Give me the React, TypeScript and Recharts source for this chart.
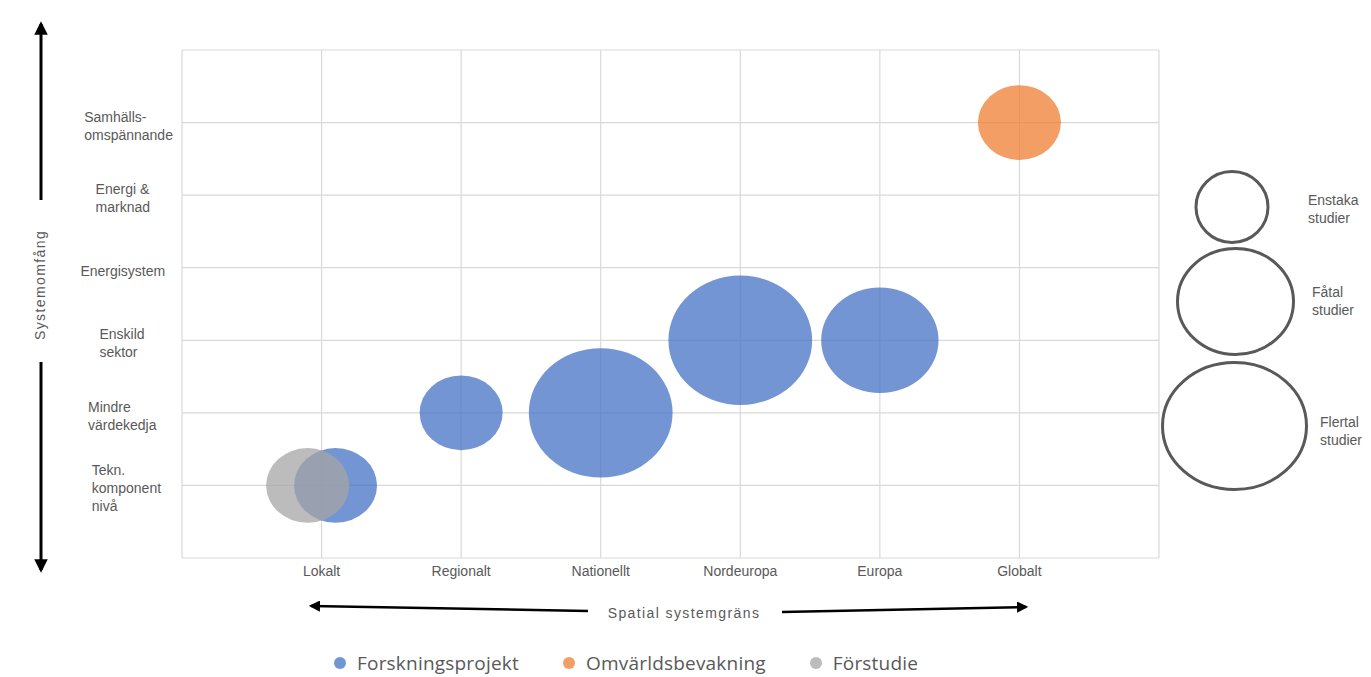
import React from "react";
import {
  ScatterChart,
  Scatter,
  XAxis,
  YAxis,
  ZAxis,
  CartesianGrid,
} from "recharts";

// spatial scope (x), system scope (y), number of studies (z)
const forskningX = [1.1, 2, 3, 4, 5];
const forskningY = [1, 2, 2, 3, 3];
const forskningZ = [1, 1, 3, 3, 2];

const omvarldX = [6];
const omvarldY = [6];
const omvarldZ = [1];

const forstudieX = [0.9];
const forstudieY = [1];
const forstudieZ = [1];

const xLabels = ["", "Lokalt", "Regionalt", "Nationellt", "Nordeuropa", "Europa", "Globalt", ""];
const yLabels = [
  "",
  "Tekn.\nkomponent\nnivå",
  "Mindre\nvärdekedja",
  "Enskild\nsektor",
  "Energisystem",
  "Energi &\nmarknad",
  "Samhälls-\nomspännande",
  "",
];
const gridTicks = [0, 1, 2, 3, 4, 5, 6, 7];

const sizeLabels = ["Enstaka\nstudier", "Fåtal\nstudier", "Flertal\nstudier"];

const series = [
  { name: "Forskningsprojekt", color: "#4472C4", xs: forskningX, ys: forskningY, zs: forskningZ },
  { name: "Omvärldsbevakning", color: "#ED7D31", xs: omvarldX, ys: omvarldY, zs: omvarldZ },
  { name: "Förstudie", color: "#A5A5A5", xs: forstudieX, ys: forstudieY, zs: forstudieZ },
];

const toPoints = (xs: number[], ys: number[], zs: number[]) =>
  xs.map((x, i) => ({ x, y: ys[i], z: zs[i] }));

const FONT = "'Liberation Sans', Arial, sans-serif";
const TEXT = "#595959";

// bubbles are slightly squashed ellipses
const Bubble = (props: any) => {
  const { cx, cy, width, fill } = props;
  if (cx == null || cy == null) return null;
  const rx = width / 2;
  return <ellipse cx={cx} cy={cy} rx={rx} ry={rx * 0.9} fill={fill} fillOpacity={0.75} />;
};

const YTick = (props: any) => {
  const { y, payload } = props;
  const label = yLabels[payload.value] || "";
  if (!label) return null;
  const lines = label.split("\n");
  const longest = Math.max(...lines.map((l: string) => l.length));
  const left = 126 - (longest * 7.6) / 2;
  const lineH = 18;
  const top = y - ((lines.length - 1) * lineH) / 2 + 3;
  return (
    <g>
      {lines.map((l: string, i: number) => (
        <text
          key={i}
          x={left}
          y={top + i * lineH}
          dominantBaseline="central"
          fill={TEXT}
          fontSize={14}
          fontFamily={FONT}
        >
          {l}
        </text>
      ))}
    </g>
  );
};

const SizeKey = () => {
  const rings = [
    { cx: 1232, cy: 207, rx: 36, ry: 35.5, tx: 1308, ty: 205 },
    { cx: 1235.5, cy: 301.5, rx: 58, ry: 53, tx: 1312, ty: 297 },
    { cx: 1234.5, cy: 426, rx: 72, ry: 63.5, tx: 1320, ty: 427 },
  ];
  return (
    <g>
      {rings.map((r, i) => (
        <g key={i}>
          <ellipse cx={r.cx} cy={r.cy} rx={r.rx} ry={r.ry} fill="none" stroke="#595959" strokeWidth={3} />
          {sizeLabels[i].split("\n").map((l, j) => (
            <text key={j} x={r.tx} y={r.ty + j * 18} fill={TEXT} fontSize={14} fontFamily={FONT}>
              {l}
            </text>
          ))}
        </g>
      ))}
    </g>
  );
};

const Arrows = () => (
  <svg
    width={1371}
    height={677}
    style={{ position: "absolute", left: 0, top: 0, pointerEvents: "none" }}
  >
    <defs>
      <marker id="head" viewBox="0 0 10 10" refX="8" refY="5" markerWidth="4.5" markerHeight="4.5" orient="auto-start-reverse">
        <path d="M0,0 L10,5 L0,10 z" fill="#000" />
      </marker>
    </defs>
    {/* system scope */}
    <line x1={41} y1={200} x2={41} y2={24} stroke="#000" strokeWidth={3} markerEnd="url(#head)" />
    <line x1={41} y1={362} x2={41} y2={570} stroke="#000" strokeWidth={3} markerEnd="url(#head)" />
    <text
      x={40}
      y={285}
      transform="rotate(-90 40 285)"
      textAnchor="middle"
      dominantBaseline="central"
      fill={TEXT}
      fontSize={14}
      letterSpacing={1.4}
      fontFamily={FONT}
    >
      Systemomfång
    </text>
    {/* spatial boundary */}
    <line x1={588} y1={611} x2={311} y2={606} stroke="#000" strokeWidth={2.5} markerEnd="url(#head)" />
    <line x1={782} y1={612} x2={1026} y2={607} stroke="#000" strokeWidth={2.5} markerEnd="url(#head)" />
    <text
      x={684}
      y={613}
      textAnchor="middle"
      dominantBaseline="central"
      fill={TEXT}
      fontSize={14}
      letterSpacing={1.4}
      fontFamily={FONT}
    >
      Spatial systemgräns
    </text>
    <SizeKey />
  </svg>
);

export default function App() {
  return (
    <div style={{ position: "absolute", left: 0, top: 0, width: 1371, height: 677, background: "#fff" }}>
      <ScatterChart
        width={1371}
        height={677}
        margin={{ top: 50, right: 212, left: 82, bottom: 89 }}
      >
        <CartesianGrid stroke="#D9D9D9" strokeWidth={1.2} />
        <XAxis
          type="number"
          dataKey="x"
          domain={[0, 7]}
          ticks={gridTicks}
          tickFormatter={(v: number) => xLabels[v] || ""}
          axisLine={false}
          tickLine={false}
          height={30}
          tick={{ fill: TEXT, fontSize: 14, fontFamily: FONT }}
        />
        <YAxis
          type="number"
          dataKey="y"
          domain={[0, 7]}
          ticks={gridTicks}
          axisLine={false}
          tickLine={false}
          width={100}
          tick={<YTick />}
        />
        <ZAxis type="number" dataKey="z" domain={[0, 3]} range={[0, 16233]} />
        {series.map((s) => (
          <Scatter
            key={s.name}
            name={s.name}
            data={toPoints(s.xs, s.ys, s.zs)}
            fill={s.color}
            shape={<Bubble />}
            isAnimationActive={false}
          />
        ))}
      </ScatterChart>
      <Arrows />
      <div
        style={{
          position: "absolute",
          left: 334,
          top: 650,
          display: "flex",
          gap: 44,
          fontFamily: "'Open Sans', sans-serif",
          fontSize: 19,
          letterSpacing: 0.2,
          color: TEXT,
          lineHeight: "26px",
        }}
      >
        {series.map((s) => (
          <div key={s.name} style={{ display: "flex", alignItems: "center", gap: 11 }}>
            <span
              style={{
                width: 12,
                height: 12,
                borderRadius: 6,
                background: s.color,
                opacity: 0.75,
                display: "inline-block",
              }}
            />
            <span>{s.name}</span>
          </div>
        ))}
      </div>
    </div>
  );
}
